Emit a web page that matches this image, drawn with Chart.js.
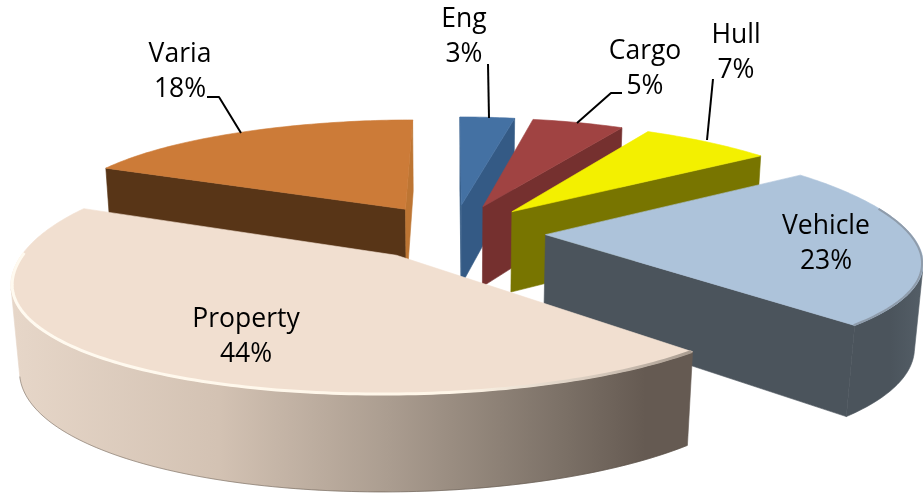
<!DOCTYPE html>
<html><head><meta charset="utf-8">
<style>html,body{margin:0;padding:0;background:#fff}canvas{display:block}</style>
<script src="https://cdn.jsdelivr.net/npm/chart.js@4"></script>
</head><body>
<canvas id="c" width="923" height="497"></canvas>
<script>
const categories = ['Eng','Cargo','Hull','Vehicle','Property','Varia'];
const shares = [3,5,7,23,44,18];
const topColors = ['#4471a3','#a04342','#f3f000','#adc3da','#f1dfd0','#cc7b38'];
const wallColors = ['#345a85','#75302f','#787500','#4b545c','#65594f','#583517'];
const outerColors = ['#345a85','#75302f','#787500','#4b545c','#65594f','#583517'];
const tipWallColors = ['#345a85','#75302f','#787500','#4b545c','#65594f','#bd7533'];
const paintOrder = [5,0,1,2,3,4];
const labelSpots = [[464,19],[645,51],[736,35],[826,226],[246,319],[180,54]];
const leaders = [[[488,64],[489,118]],[[622,93],[611,93],[577,123]],[[713,79],[707,140]],null,null,[[207,97],[219,97],[241,133]]];
const cam = {cx:453,A:364,px:0.2,lean:0.04,trim:0.011,a0:232,b:-73.7,e:88,p:0.155,q:0.018};

function project(u,v,z){
  const w = 1+cam.p*v+cam.q*z;
  const wx = 1+cam.px*v+cam.q*z;
  const b = Math.max(0,v+0.4), left = Math.max(0,-u);
  const k = 1+cam.lean*left*b*b-cam.trim*left;
  return [cam.cx+cam.A*k*u/wx,(cam.a0+cam.b*v+cam.e*z)/w];
}
function trace(ctx,pts){pts.forEach((p,i)=>i?ctx.lineTo(p[0],p[1]):ctx.moveTo(p[0],p[1]));}
function poly(ctx,pts,fill){
  ctx.beginPath();trace(ctx,pts);ctx.closePath();
  ctx.fillStyle=fill;ctx.fill();
  ctx.strokeStyle=fill;ctx.lineWidth=0.6;ctx.stroke();
}
function area(q){let s=0;for(let i=0;i<q.length;i++){const a=q[i],b=q[(i+1)%q.length];s+=a[0]*b[1]-b[0]*a[1];}return s/2;}

const pie3d = {
  id:'pie3d',
  beforeDatasetDraw(chart,args){
    const ctx=chart.ctx, arcs=chart.getDatasetMeta(args.index).data;
    paintOrder.forEach(i=>{
      const el=arcs[i], R=el.outerRadius, d=el.options.offset/R;
      const s0=el.startAngle, s1=el.endAngle, ha=(s0+s1)/2;
      const ou=d*Math.cos(ha), ov=-d*Math.sin(ha);
      const pt=(t,r,z)=>project(r*Math.cos(t)+ou,-r*Math.sin(t)+ov,z);
      const n=Math.max(4,Math.round((s1-s0)*180/Math.PI));
      const rim=[];for(let k=0;k<=n;k++)rim.push(s0+(s1-s0)*k/n);
      // radial cut walls, culled when facing away
      const wallA=[pt(s0,0,0),pt(s0,1,0),pt(s0,1,1),pt(s0,0,1)];
      const wallB=[pt(s1,1,0),pt(s1,0,0),pt(s1,0,1),pt(s1,1,1)];
      if(area(wallA)<0)poly(ctx,wallA,wallColors[i]);
      if(area(wallB)<0)poly(ctx,wallB,tipWallColors[i]);
      // outer curved wall, as one polygon over the part that faces the viewer
      let outerFill=outerColors[i];
      if(i===4){
        const g=ctx.createLinearGradient(15,0,693,0);
        g.addColorStop(0,'#e6d6c8');g.addColorStop(.3,'#d3c2b3');g.addColorStop(.55,'#ab9d90');g.addColorStop(.8,'#7d7268');g.addColorStop(.93,'#655a52');g.addColorStop(1,'#655a52');
        outerFill=g;
      }else if(i===3){
        const g=ctx.createLinearGradient(890,0,920,0);
        g.addColorStop(0,'#4b545c');g.addColorStop(1,'#535d66');
        outerFill=g;
      }
      const facing=[];
      for(let k=0;k<n;k++){
        const q=[pt(rim[k],1,0),pt(rim[k+1],1,0),pt(rim[k+1],1,1),pt(rim[k],1,1)];
        if(area(q)<0){ if(!facing.length)facing.push(rim[k]); facing.push(rim[k+1]); }
      }
      if(facing.length){
        poly(ctx,facing.map(t=>pt(t,1,0)).concat(facing.slice().reverse().map(t=>pt(t,1,1))),outerFill);
        if(i===4){
          ctx.beginPath();trace(ctx,facing.map(t=>pt(t,1,1)));
          ctx.strokeStyle='rgba(70,60,50,.4)';ctx.lineWidth=1;ctx.stroke();
        }
      }
      // top face
      poly(ctx,[pt(s0,0,0)].concat(rim.map(t=>pt(t,1,0))),el.options.backgroundColor);
      // bevel highlight on the front of the rim
      if(i===4||i===3){
        const front=rim.filter(t=>Math.sin(t)>(i===4?-0.02:-0.25));
        ctx.beginPath();
        trace(ctx,front.map(t=>pt(t,0.997,0)));
        let st='#8f9cab';
        if(i===4){
          const g=ctx.createLinearGradient(15,0,693,0);
          g.addColorStop(0,'#fffaf0');g.addColorStop(.65,'#fff6e8');g.addColorStop(.85,'#d9ccbf');g.addColorStop(1,'#a89b8f');
          st=g;
        }
        ctx.strokeStyle=st;ctx.lineWidth=i===4?3:2;ctx.lineJoin='round';ctx.stroke();
      }
    });
    // data labels and their leader lines
    ctx.save();
    ctx.strokeStyle='#000';ctx.lineWidth=2;
    leaders.forEach(l=>{if(!l)return;ctx.beginPath();trace(ctx,l);ctx.stroke();});
    ctx.fillStyle='#000';ctx.font='26.5px "Open Sans"';ctx.textAlign='center';ctx.textBaseline='middle';
    categories.forEach((c,i)=>{
      ctx.fillText(c,labelSpots[i][0],labelSpots[i][1]);
      ctx.fillText(shares[i]+'%',labelSpots[i][0],labelSpots[i][1]+35);
    });
    ctx.restore();
    return false;
  }
};

new Chart(document.getElementById('c'),{
  type:'pie',
  data:{labels:categories,datasets:[{data:shares,backgroundColor:topColors,offset:56,borderWidth:0}]},
  options:{responsive:false,animation:false,rotation:0,layout:{padding:0},
    plugins:{legend:{display:false},tooltip:{enabled:false}}},
  plugins:[pie3d]
});
</script>
</body></html>
